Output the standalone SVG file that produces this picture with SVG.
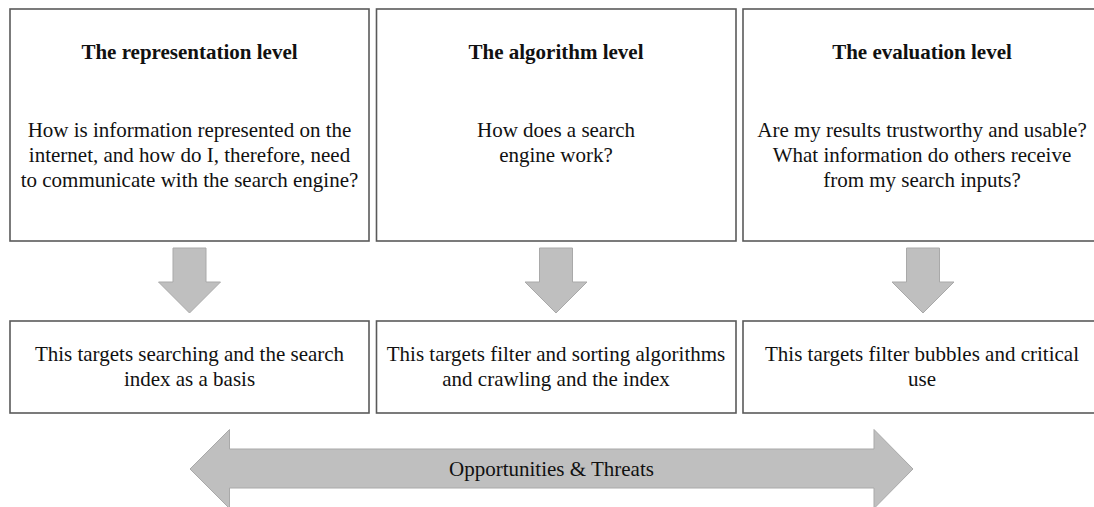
<svg xmlns="http://www.w3.org/2000/svg" width="1094" height="507" viewBox="0 0 1094 507">
  <style>
    .box { fill: #ffffff; stroke: #5a5a5a; stroke-width: 1.6; }
    .arrow { fill: #bfbfbf; stroke: #a9a9a9; stroke-width: 1; }
    text { font-family: "Liberation Serif", "Times New Roman", serif; font-size: 21px; fill: #111111; text-anchor: middle; }
    .title { font-weight: bold; }
  </style>
  <defs>
    <!-- downward block arrow, centred on x=0 -->
    <path id="down" d="M -16.5 248 H 16.5 V 282 H 31 L 0 313 L -31 282 H -16.5 Z"/>
  </defs>

  <!-- level boxes -->
  <g id="representation">
    <rect class="box" x="10" y="9" width="359" height="232"/>
    <text class="title" x="189.5" y="59">The representation level</text>
    <text x="189.5" y="137">How is information represented on the</text>
    <text x="189.5" y="162">internet, and how do I, therefore, need</text>
    <text x="189.5" y="187">to communicate with the search engine?</text>
  </g>
  <g id="algorithm">
    <rect class="box" x="376.5" y="9" width="359.5" height="232"/>
    <text class="title" x="556" y="59">The algorithm level</text>
    <text x="556" y="137">How does a search</text>
    <text x="556" y="162">engine work?</text>
  </g>
  <g id="evaluation">
    <rect class="box" x="743" y="9" width="360" height="232"/>
    <text class="title" x="922" y="59">The evaluation level</text>
    <text x="922" y="137">Are my results trustworthy and usable?</text>
    <text x="922" y="162">What information do others receive</text>
    <text x="922" y="187">from my search inputs?</text>
  </g>

  <!-- target boxes -->
  <g id="target-representation">
    <rect class="box" x="10" y="321" width="359" height="92"/>
    <text x="189.5" y="361">This targets searching and the search</text>
    <text x="189.5" y="386">index as a basis</text>
  </g>
  <g id="target-algorithm">
    <rect class="box" x="376.5" y="321" width="359.5" height="92"/>
    <text x="556" y="361">This targets filter and sorting algorithms</text>
    <text x="556" y="386">and crawling and the index</text>
  </g>
  <g id="target-evaluation">
    <rect class="box" x="743" y="321" width="360" height="92"/>
    <text x="922" y="361">This targets filter bubbles and critical</text>
    <text x="922" y="386">use</text>
  </g>

  <!-- connectors -->
  <g id="connectors">
    <use href="#down" class="arrow" transform="translate(189.5 0)"/>
    <use href="#down" class="arrow" transform="translate(556 0)"/>
    <use href="#down" class="arrow" transform="translate(923 0)"/>
  </g>

  <!-- double-headed band -->
  <g id="opportunities-threats">
    <path class="arrow" d="M 190 469 L 229.5 429.5 V 449 H 874 V 429.5 L 913 469 L 874 508.5 V 488 H 229.5 V 508.5 Z"/>
    <text x="551.5" y="476">Opportunities &amp; Threats</text>
  </g>
</svg>
